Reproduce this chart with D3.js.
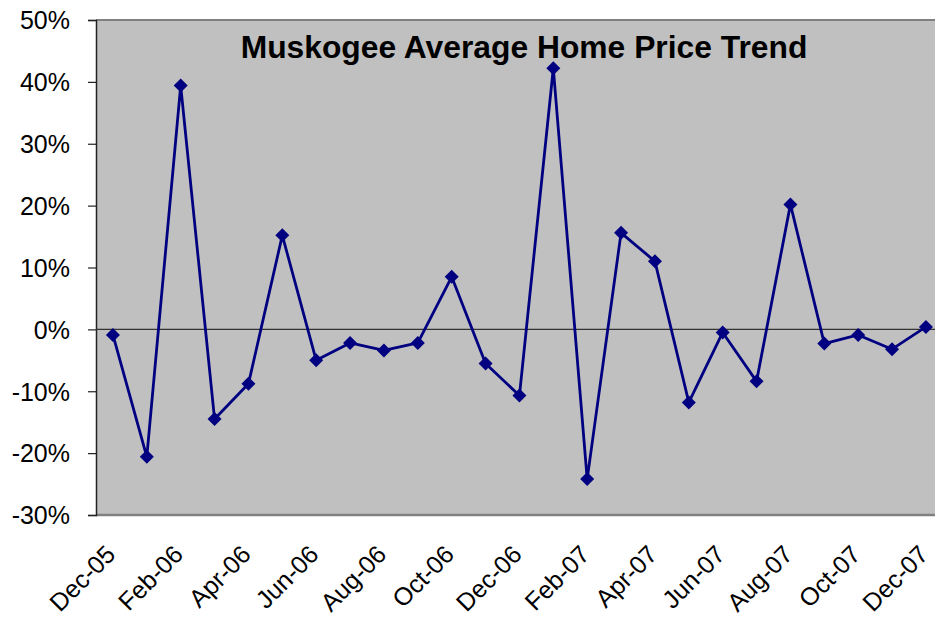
<!DOCTYPE html>
<html><head><meta charset="utf-8">
<script src="https://cdn.jsdelivr.net/npm/d3@7"></script>
<style>body{margin:0;background:#fff;}svg{display:block;}</style>
</head><body>
<svg id="c" width="935" height="618"></svg>
<script>
const months = ["Dec-05","Jan-06","Feb-06","Mar-06","Apr-06","May-06","Jun-06","Jul-06","Aug-06","Sep-06","Oct-06","Nov-06","Dec-06","Jan-07","Feb-07","Mar-07","Apr-07","May-07","Jun-07","Jul-07","Aug-07","Sep-07","Oct-07","Nov-07","Dec-07"];
const changePct = [-0.9,-20.6,39.4,-14.5,-8.8,15.2,-5.0,-2.2,-3.4,-2.2,8.5,-5.5,-10.7,42.2,-24.2,15.6,11.0,-11.8,-0.5,-8.4,20.2,-2.3,-0.9,-3.2,0.4];
const yTicks = [-30,-20,-10,0,10,20,30,40,50];
const title = "Muskogee Average Home Price Trend";

const svg = d3.select("#c");
const L = 96, T = 20, B = 515, R = 96 + 25*33.875;
const x = d3.scaleBand().domain(months).range([L, R]);
const y = d3.scaleLinear().domain([-30, 50]).range([B, T]);
const font = "Arial, 'Liberation Sans', sans-serif";

// plot area
svg.append("rect").attr("x", L).attr("y", T).attr("width", R - L).attr("height", B - T)
  .attr("fill", "#c0c0c0");
svg.append("line").attr("x1", L).attr("x2", R).attr("y1", T).attr("y2", T).attr("stroke", "#808080").attr("stroke-width", 2);
svg.append("line").attr("x1", L).attr("x2", R).attr("y1", B).attr("y2", B).attr("stroke", "#808080").attr("stroke-width", 2.5);

// y axis
const yAxis = d3.axisLeft(y).tickValues(yTicks).tickSize(8).tickFormat(d => d + "%");
const ya = svg.append("g").attr("transform", `translate(${L},0)`).call(yAxis);
ya.select(".domain").attr("stroke", "#222").attr("stroke-width", 1.5);
ya.selectAll(".tick line").attr("stroke", "#222").attr("stroke-width", 1.2);
ya.selectAll(".tick text").attr("x", -26).attr("dy", "0.35em")
  .attr("font-family", font).attr("font-size", 25).attr("fill", "#000");

// zero line (category axis)
svg.append("line").attr("x1", L).attr("x2", R).attr("y1", y(0)).attr("y2", y(0))
  .attr("stroke", "#333").attr("stroke-width", 1.3);

// x labels
svg.append("g").selectAll("text").data(months.filter((m, i) => i % 2 === 0)).join("text")
  .attr("transform", d => `translate(${x(d) + x.bandwidth()/2 + 4},556) rotate(-45)`)
  .attr("text-anchor", "end")
  .attr("font-family", font).attr("font-size", 25).attr("fill", "#000")
  .text(d => d);

// line
const cx = d => x(d) + x.bandwidth()/2;
const pts = months.map((m, i) => [cx(m), y(changePct[i])]);
svg.append("path").datum(pts).attr("d", d3.line())
  .attr("fill", "none").attr("stroke", "#000080").attr("stroke-width", 2.8).attr("stroke-linejoin", "round");
svg.append("g").selectAll("path").data(pts).join("path")
  .attr("d", d => `M${d[0]},${d[1]-7}L${d[0]+7},${d[1]}L${d[0]},${d[1]+7}L${d[0]-7},${d[1]}Z`)
  .attr("fill", "#000080");

// title
svg.append("text").attr("x", 524).attr("y", 58).attr("text-anchor", "middle")
  .attr("font-family", font).attr("font-weight", "bold").attr("font-size", 31.8).attr("fill", "#000")
  .text(title);
</script>
</body></html>
